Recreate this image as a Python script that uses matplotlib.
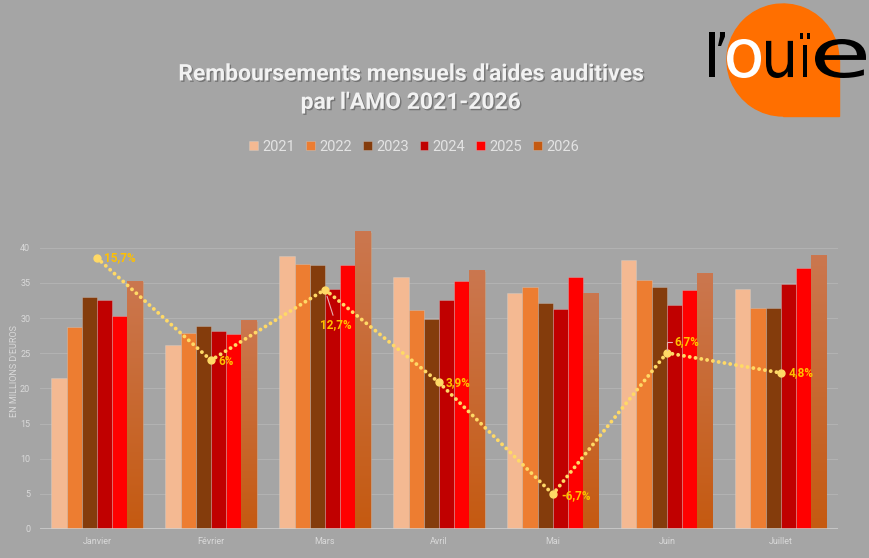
import numpy as np
import matplotlib
matplotlib.use("Agg")
import matplotlib.pyplot as plt
import matplotlib.patheffects as pe
from matplotlib.patches import Wedge, Rectangle, PathPatch
from matplotlib.colors import LinearSegmentedColormap
from matplotlib.textpath import TextPath
from matplotlib.font_manager import FontProperties
from matplotlib.transforms import Affine2D

# --- données ---
mois = ['Janvier', 'Février', 'Mars', 'Avril', 'Mai', 'Juin', 'Juillet']
annees = ['2021', '2022', '2023', '2024', '2025', '2026']

v2021 = [21.5, 26.1, 38.8, 35.8, 33.5, 38.3, 34.2]
v2022 = [28.7, 27.9, 37.7, 31.2, 34.4, 35.4, 31.5]
v2023 = [33.0, 28.9, 37.5, 29.9, 32.2, 34.4, 31.4]
v2024 = [32.5, 28.2, 34.2, 32.6, 31.3, 31.8, 34.9]
v2025 = [30.3, 27.8, 37.6, 35.3, 35.8, 34.0, 37.1]
v2026 = [35.2, 29.6, 42.3, 36.7, 33.5, 36.4, 38.9]

evolution = [15.7, 6, 12.7, 3.9, -6.7, 6.7, 4.8]   # % 2026 vs 2025

series = [v2021, v2022, v2023, v2024, v2025, v2026]
couleurs = ['#F4B992', '#ED7D31', '#843C0C', '#C00000', '#FF0000', '#C55A11']

fond = '#A5A5A5'
gris_txt = '#D9D9D9'
plt.rcParams['font.family'] = ['Roboto', 'DejaVu Sans']

fig = plt.figure(figsize=(8.7, 5.58), dpi=100, facecolor=fond)
ax = fig.add_axes([0.046, 0.052, 0.917, 0.567], facecolor=fond)

x = np.arange(len(mois))
largeur = 0.8 / len(series)
for i, (vals, coul) in enumerate(zip(series, couleurs)):
    pos = x - 0.4 + largeur * (i + 0.5)
    bars = ax.bar(pos, vals, largeur, color=coul, label=annees[i], zorder=3,
                  edgecolor=(0.85, 0.85, 0.85, 0.35), linewidth=0.6)
    if i == len(series) - 1:
        # dégradé pour 2026
        cmap = LinearSegmentedColormap.from_list('g26', ['#C55A11', '#CB774F'])
        grad = np.linspace(0, 1, 100).reshape(-1, 1)
        for b in bars:
            ax.imshow(grad, cmap=cmap, origin='lower', aspect='auto', zorder=3.5,
                      extent=[b.get_x(), b.get_x() + b.get_width(), 0, b.get_height()])

ax.set_xlim(-0.5, len(mois) - 0.5)
ax.set_ylim(0, 45)
ax.set_yticks(np.arange(0, 41, 5))
ax.set_xticks(x)
ax.set_xticklabels(mois)
ax.tick_params(length=0, colors=gris_txt, labelsize=6.5)
ax.tick_params(axis='y', pad=7)
ax.tick_params(axis='x', pad=6)
for t in ax.get_xticklabels() + ax.get_yticklabels():
    t.set_color(gris_txt)
ax.grid(axis='y', color='#B2B2B2', linewidth=0.8, zorder=0)
for s in ax.spines.values():
    s.set_visible(False)
ax.axhline(0, color='#D0D0D0', linewidth=1.8, zorder=4)
ax.set_ylabel("EN MILLIONS D'EUROS", color=gris_txt, fontsize=6.5, labelpad=1)

# --- courbe d'évolution (axe secondaire caché) ---
ax2 = ax.twinx()
ax2.set_ylim(-10, 20)
ax2.axis('off')
ax2.plot(x, evolution, color='#FFD966', linewidth=2.8, linestyle=(0, (0.01, 1.5)),
         dash_capstyle='round', zorder=5)
ax2.plot(x, evolution, 'o', color='#FFD966', markersize=5, zorder=6)

decalages = [(7, 0), (7, -1), (11, -35), (7, 0), (8, -1), (8, 11), (8, 0)]
for xi, v, d in zip(x, evolution, decalages):
    lab = f"{v:g}%".replace('.', ',')
    if d[1] < -20:
        ax2.annotate(lab, (xi, v), xytext=d, textcoords='offset pixels', ha='center',
                     va='center', fontsize=8.5, fontweight='bold', color='#FFC000',
                     arrowprops=dict(arrowstyle='-', color='#E6B0B0', lw=0.8,
                                     shrinkA=0, shrinkB=5), zorder=7)
    elif d[1] > 5:
        ax2.annotate(lab, (xi, v), xytext=d, textcoords='offset pixels', ha='left',
                     va='center', fontsize=8.5, fontweight='bold', color='#FFC000',
                     arrowprops=dict(arrowstyle='-', color='#E6B0B0', lw=0.8,
                                     shrinkA=0, shrinkB=2,
                                     connectionstyle='angle,angleA=0,angleB=90,rad=0'),
                     zorder=7)
    else:
        ax2.annotate(lab, (xi, v), xytext=d, textcoords='offset pixels', ha='left',
                     va='center', fontsize=8.5, fontweight='bold', color='#FFC000', zorder=7)

# --- titre et légende ---
fig.text(0.472, 0.842, "Remboursements mensuels d'aides auditives\npar l'AMO 2021-2026",
         ha='center', va='center', fontsize=16.5, fontweight='bold', color='#F2F2F2',
         linespacing=1.3,
         path_effects=[pe.withSimplePatchShadow(offset=(1, -1), shadow_rgbFace='#555555', alpha=0.6)])

h, l = ax.get_legend_handles_labels()
leg = fig.legend(h, l, loc='center', bbox_to_anchor=(0.476, 0.737), ncol=6, frameon=False,
                 fontsize=10.5, handlelength=0.6, handleheight=0.6, handletextpad=0.3,
                 columnspacing=0.75)
for t in leg.get_texts():
    t.set_color('#E3E3E3')

# --- logo l'ouïe (coordonnées en pixels, origine en haut à gauche) ---
tr = fig.dpi_scale_trans
H = 558
cx, cy, r = 783, 60, 56
fig.add_artist(Wedge((cx / 100, (H - cy) / 100), r / 100, 0, 270, color='#FF6F00',
                     transform=tr, zorder=1))
fig.add_artist(Rectangle((cx / 100, (H - cy - r) / 100), r / 100, r / 100,
                         color='#FF6F00', transform=tr, zorder=1))

fp_logo = FontProperties(family='DejaVu Sans', weight='normal')


def lettre(ch, x0, x1, ytop, ybot, coul):
    p = TextPath((0, 0), ch, size=1, prop=fp_logo)
    e = p.get_extents()
    t = (Affine2D().translate(-e.x0, -e.y0)
         .scale((x1 - x0) / e.width / 100, (ybot - ytop) / e.height / 100)
         .translate(x0 / 100, (H - ybot) / 100))
    fig.add_artist(PathPatch(t.transform_path(p), color=coul, lw=0, transform=tr, zorder=2))


lettre("l", 709, 715, 32, 77, 'black')
lettre("’", 718, 725, 32, 46, 'black')
lettre("o", 727, 761, 39, 78, 'white')
lettre("u", 766, 793, 40, 78, 'black')
lettre("ï", 800, 810, 33, 77, 'black')
lettre("e", 815, 866, 39, 78, 'black')

fig.savefig('out.png', dpi=100, facecolor=fond)
